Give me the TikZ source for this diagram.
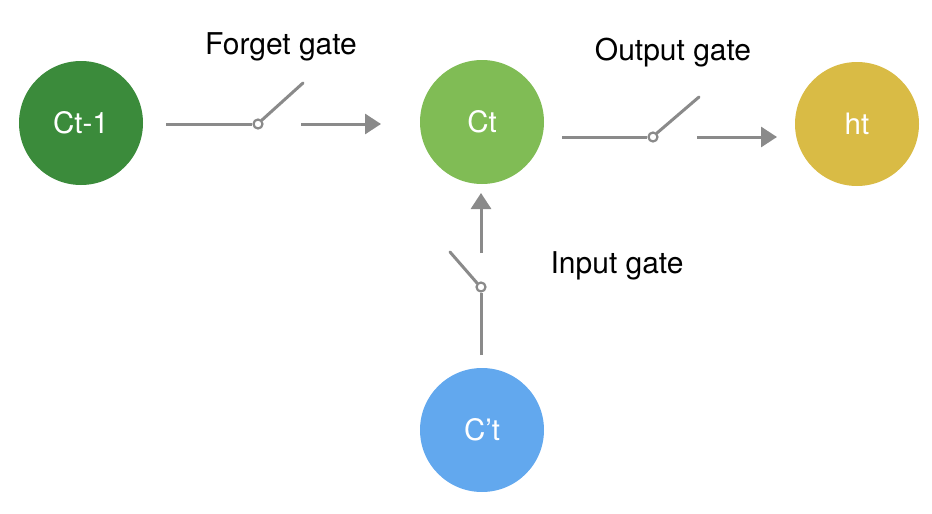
\documentclass[tikz,border=0pt]{standalone}
\usepackage{fontspec}
\setmainfont{TeX Gyre Heros}
\usetikzlibrary{arrows.meta}
\definecolor{darkg}{HTML}{3B8B3B}
\definecolor{lightg}{HTML}{80BC55}
\definecolor{gold}{HTML}{D9BB45}
\definecolor{skyb}{HTML}{62A8EE}
\definecolor{wire}{HTML}{8A8A8A}
\tikzset{
  cell/.style={circle, minimum size=124pt, inner sep=0pt, text=white, font=\fontsize{29.5}{34}\selectfont},
  wireline/.style={draw=wire, line width=3pt},
  arrowline/.style={wireline, -{Triangle[length=16pt,width=20pt]}},
  pivot/.style={circle, draw=wire, line width=2.2pt, fill=white, minimum size=9pt, inner sep=0pt},
  gatelabel/.style={font=\fontsize{30}{34}\selectfont, text=black}
}
\begin{document}
\begin{tikzpicture}[x=1pt,y=-1pt]
\useasboundingbox (0,0) rectangle (932,514);
% cells
\node[cell, fill=darkg] (cprev) at (81,123) {Ct-1};
\node[cell, fill=lightg] (ct) at (482,122) {Ct};
\node[cell, fill=gold] (ht) at (857,124) {ht};
\node[cell, fill=skyb] (cand) at (482,430) {C’t};
% forget gate
\coordinate (f1) at (166,124);
\coordinate (flever) at (303,83);
\coordinate (fa1) at (301,124);
\coordinate (fa2) at (381,124);
\node[pivot] (fp) at (258,124) {};
\draw[wireline] (f1) -- (fp.west);
\draw[wireline, line cap=round] (fp.north east) -- (flever);
\draw[arrowline] (fa1) -- (fa2);
\node[gatelabel] (fl) at (281,47) {Forget gate};
% output gate
\coordinate (o1) at (562,137);
\coordinate (olever) at (699,97);
\coordinate (oa1) at (697,137);
\coordinate (oa2) at (777,137);
\node[pivot] (op) at (653,137) {};
\draw[wireline] (o1) -- (op.west);
\draw[wireline, line cap=round] (op.north east) -- (olever);
\draw[arrowline] (oa1) -- (oa2);
\node[gatelabel] (ol) at (673,53) {Output gate};
% input gate
\coordinate (i1) at (481,355);
\coordinate (ilever) at (450,252);
\coordinate (ia1) at (481,253);
\coordinate (ia2) at (481,193);
\node[pivot] (ip) at (481,287) {};
\draw[wireline] (i1) -- (ip.south);
\draw[wireline, line cap=round] (ip.north west) -- (ilever);
\draw[arrowline] (ia1) -- (ia2);
\node[gatelabel] (il) at (617,266) {Input gate};
\end{tikzpicture}
\end{document}
